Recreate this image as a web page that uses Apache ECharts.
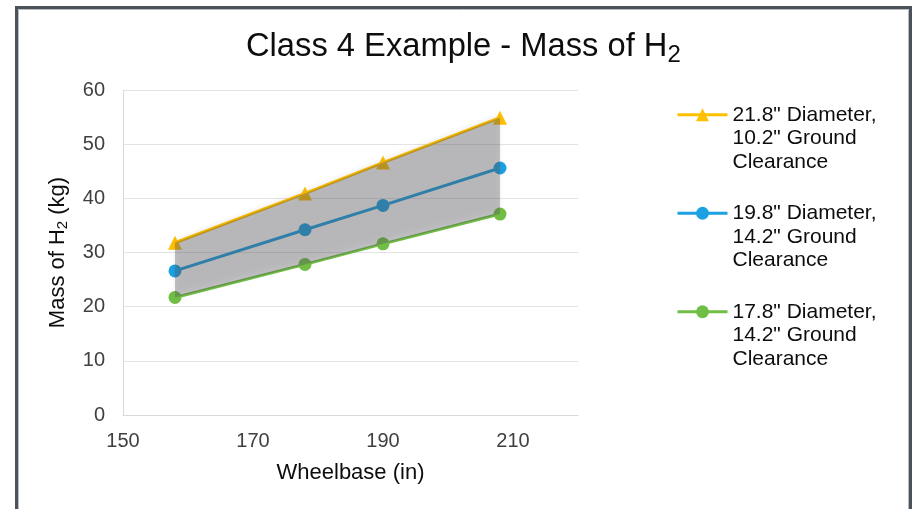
<!DOCTYPE html>
<html>
<head>
<meta charset="utf-8">
<script src="https://cdn.jsdelivr.net/npm/echarts@6/dist/echarts.min.js"></script>
<style>
html,body{margin:0;padding:0;background:#fff;}
#chart{width:913px;height:509px;}
</style>
</head>
<body>
<div id="chart"></div>
<script>
// Data
const wheelbase = [158, 178, 190, 208];
const seriesNames = [
  '21.8" Diameter,\n10.2" Ground\nClearance',
  '19.8" Diameter,\n14.2" Ground\nClearance',
  '17.8" Diameter,\n14.2" Ground\nClearance'
];
const mass218 = [31.8, 40.9, 46.6, 54.9];
const mass198 = [26.6, 34.2, 38.7, 45.6];
const mass178 = [21.7, 27.8, 31.6, 37.1];
const xTicks = [150, 170, 190, 210];
const yTicks = [0, 10, 20, 30, 40, 50, 60];

const pairs = (ys) => wheelbase.map((x, i) => [x, ys[i]]);
// band between the lowest and highest series
const bandData = wheelbase.map((x, i) => [x, mass178[i], mass218[i]]);

const font = '"Liberation Sans", Arial, sans-serif';
const chart = echarts.init(document.getElementById('chart'), null, {renderer: 'canvas'});

const lineSeries = (name, data, color, symbol, size) => ({
  name: name,
  type: 'line',
  data: pairs(data),
  symbol: symbol,
  symbolSize: size,
  z: 2,
  lineStyle: {color: color, width: 3},
  itemStyle: {color: color},
  emphasis: {disabled: true}
});

chart.setOption({
  animation: false,
  backgroundColor: '#fff',
  textStyle: {fontFamily: font},
  title: {
    text: '{m|Class 4 Example - Mass of H}{s|2}',
    left: 246,
    top: 27,
    padding: 0,
    textStyle: {
      fontWeight: 'normal',
      rich: {
        m: {fontSize: 32.7, fontWeight: 'normal', fontFamily: font, color: '#0d0d0d', lineHeight: 40, verticalAlign: 'middle'},
        s: {fontSize: 24, fontWeight: 'normal', fontFamily: font, color: '#0d0d0d', lineHeight: 40, verticalAlign: 'middle', padding: [16, 0, 0, 0]}
      }
    }
  },
  legend: {
    orient: 'vertical',
    left: 676,
    top: 56,
    padding: 0,
    itemWidth: 50,
    itemHeight: 16,
    itemGap: -19,
    data: seriesNames,
    lineStyle: {width: 3},
    formatter: (n) => '\n\n' + n,
    textStyle: {fontSize: 21, lineHeight: 23.5, color: '#0d0d0d', fontFamily: font}
  },
  grid: {left: 123, right: 335, top: 90, bottom: 94, containLabel: false},
  xAxis: {
    type: 'value',
    min: xTicks[0],
    max: 220,
    interval: xTicks[1] - xTicks[0],
    name: 'Wheelbase (in)',
    nameLocation: 'middle',
    nameGap: 47,
    nameTextStyle: {fontSize: 22, color: '#0d0d0d', fontFamily: font},
    axisLine: {show: true, lineStyle: {color: '#d9d9d9', width: 1}},
    axisTick: {show: false},
    splitLine: {show: false},
    axisLabel: {fontSize: 20, color: '#404040', margin: 16, showMaxLabel: false, fontFamily: font}
  },
  yAxis: {
    type: 'value',
    min: yTicks[0],
    max: yTicks[yTicks.length - 1],
    interval: yTicks[1] - yTicks[0],
    name: '{m|Mass of H}{s|2}{m| (kg)}',
    nameLocation: 'middle',
    nameGap: 52,
    nameTextStyle: {
      rich: {
        m: {fontSize: 22, color: '#0d0d0d', fontFamily: font, lineHeight: 26, verticalAlign: 'middle'},
        s: {fontSize: 15, color: '#0d0d0d', fontFamily: font, lineHeight: 26, verticalAlign: 'middle', padding: [10, 0, 0, 0]}
      }
    },
    axisLine: {show: true, lineStyle: {color: '#d9d9d9', width: 1}},
    axisTick: {show: false},
    splitLine: {show: true, lineStyle: {color: '#e3e3e3', width: 1}},
    axisLabel: {fontSize: 20, color: '#404040', margin: 18, fontFamily: font}
  },
  series: [
    lineSeries(seriesNames[0], mass218, '#FFC000', 'triangle', 14),
    lineSeries(seriesNames[1], mass198, '#1BA1E2', 'circle', 13),
    lineSeries(seriesNames[2], mass178, '#71BE45', 'circle', 13),
    {
      name: 'band',
      type: 'custom',
      data: bandData,
      z: 3,
      silent: true,
      encode: {x: 0, y: [1, 2]},
      renderItem: function (params, api) {
        if (params.dataIndex !== 0) return null;
        const upper = bandData.map(d => api.coord([d[0], d[2]]));
        const lower = bandData.map(d => api.coord([d[0], d[1]])).reverse();
        return {
          type: 'polygon',
          shape: {points: upper.concat(lower)},
          style: {
            fill: 'rgba(90,90,96,0.36)',
            shadowBlur: 5,
            shadowColor: 'rgba(0,0,0,0.2)',
            shadowOffsetY: -3
          }
        };
      }
    }
  ],
  graphic: [
    {type: 'rect', silent: true, z: 100,
     shape: {x: 16.5, y: 7.5, width: 894, height: 600},
     style: {fill: 'none', stroke: '#4b5259', lineWidth: 3}},
    {type: 'rect', silent: true, z: 100,
     shape: {x: 18.5, y: 9.5, width: 890, height: 600},
     style: {fill: 'none', stroke: '#b9bcbf', lineWidth: 1}}
  ]
});
</script>
</body>
</html>
